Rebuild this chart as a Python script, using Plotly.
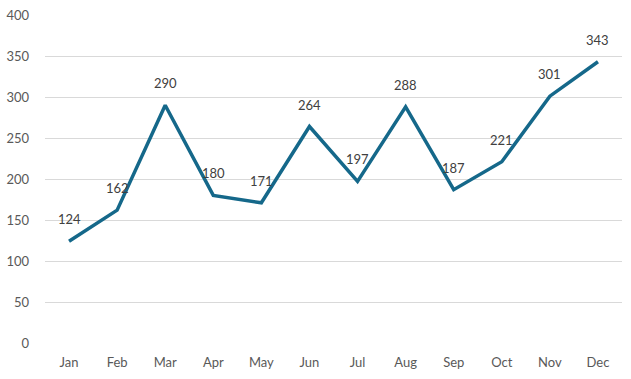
import plotly.graph_objects as go

months = ["Jan", "Feb", "Mar", "Apr", "May", "Jun", "Jul", "Aug", "Sep", "Oct", "Nov", "Dec"]
values = [124, 162, 290, 180, 171, 264, 197, 288, 187, 221, 301, 343]
y_ticks = [0, 50, 100, 150, 200, 250, 300, 350, 400]

line_color = "#15688A"
font_family = "Lato, 'Open Sans', sans-serif"

fig = go.Figure()
fig.add_trace(go.Scatter(
    x=months, y=values, mode="lines",
    line=dict(color=line_color, width=3.5),
    hoverinfo="skip", showlegend=False,
))
for m, v in zip(months, values):
    fig.add_annotation(
        x=m, y=v, text=str(v), showarrow=False, yshift=22,
        font=dict(family=font_family, size=13, color="#404040"),
    )

fig.update_layout(
    width=631, height=379,
    margin=dict(l=45, r=9, t=15, b=36, autoexpand=False),
    paper_bgcolor="white", plot_bgcolor="white",
    font=dict(family=font_family, size=13, color="#595959"),
)
fig.update_xaxes(
    showgrid=False, zeroline=False, showline=False,
    ticks="", ticklabelstandoff=10, automargin=False,
    range=[-0.5, 11.5],
)
fig.update_yaxes(
    range=[0, 400], tickvals=y_ticks,
    showgrid=True, gridcolor="#D9D9D9", gridwidth=1,
    zeroline=False, showline=False, ticks="",
    ticklabelstandoff=15, automargin=False,
)
fig.write_html(
    "out.html",
    config={"displayModeBar": False, "staticPlot": True},
    post_script="document.body.style.margin='0';document.body.style.overflow='hidden';",
)
